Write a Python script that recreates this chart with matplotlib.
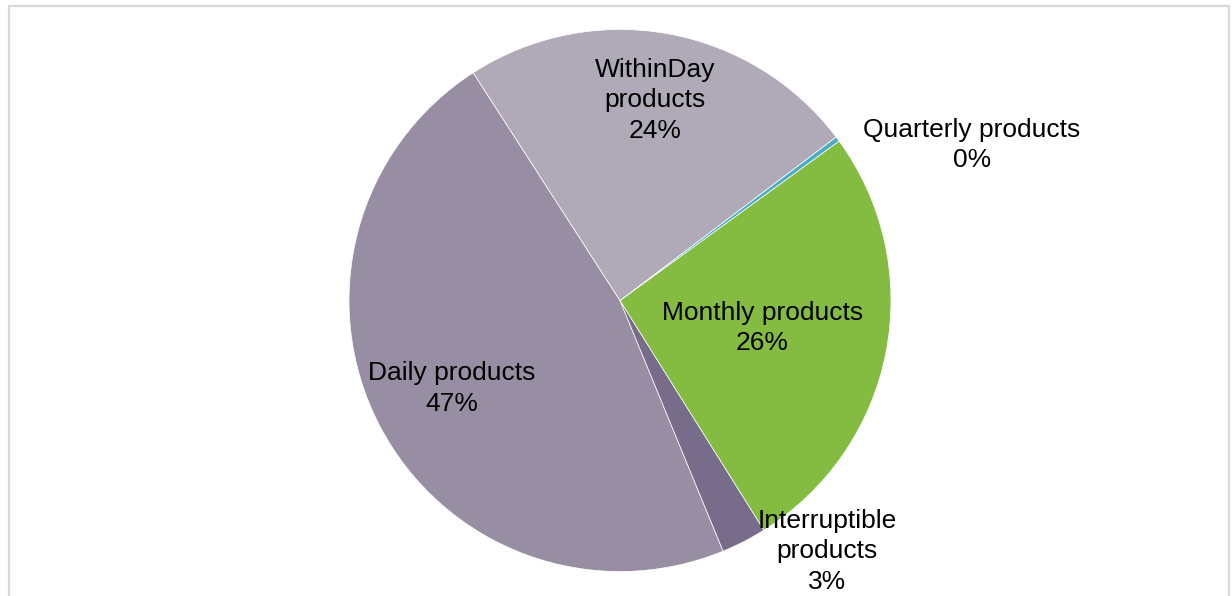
import numpy as np
import matplotlib.pyplot as plt
from matplotlib.patches import Rectangle

plt.rcParams['font.family'] = ['Liberation Sans', 'DejaVu Sans']

# ── data ──────────────────────────────────────────────────────────────────────
names = ["Daily products", "Interruptible\nproducts", "Monthly products",
         "Quarterly products", "WithinDay\nproducts"]
shares = [47.1, 2.7, 26.1, 0.3, 23.8]
colors = ["#978EA3", "#776C89", "#84BB41", "#4BACC6", "#B0A9B8"]

# label placement: radius (pie units) and angle override (None = wedge middle)
lab_r = [0.70, 1.20, 0.535, 1.42, 0.75]
lab_ang = [None, -50.5, None, 23.8, None]

# ── figure ────────────────────────────────────────────────────────────────────
W, H = 1232, 596
fig = plt.figure(figsize=(W / 100, H / 100), dpi=100, facecolor="white")

# chart frame (bottom edge runs off the canvas)
fig.patches.append(Rectangle((8.5 / W, -0.05), (1229 - 8.5) / W, 1.05 - 5.5 / H,
                             transform=fig.transFigure, fill=False,
                             edgecolor="#D9D9D9", linewidth=1.6))

cx, cy, R = 620, 596 - 300.5, 271
ax = fig.add_axes([(cx - R) / W, (cy - R) / H, 2 * R / W, 2 * R / H])

wedges, _ = ax.pie(shares, colors=colors, startangle=122.8, counterclock=True,
                   radius=1, wedgeprops=dict(edgecolor="white", linewidth=0.5),
                   labels=None)
# pie() widens the limits itself, pin them back to the unit circle
ax.set_xlim(-1, 1)
ax.set_ylim(-1, 1)
ax.set_aspect("equal")
ax.axis("off")

for w, name, val, r, ang in zip(wedges, names, shares, lab_r, lab_ang):
    a = np.deg2rad(ang if ang is not None else (w.theta1 + w.theta2) / 2)
    ax.text(r * np.cos(a), r * np.sin(a), f"{name}\n{val:.0f}%",
            ha="center", va="center", fontsize=19, color="black",
            linespacing=1.34, clip_on=False)

fig.savefig("out.png", dpi=100, facecolor="white")
